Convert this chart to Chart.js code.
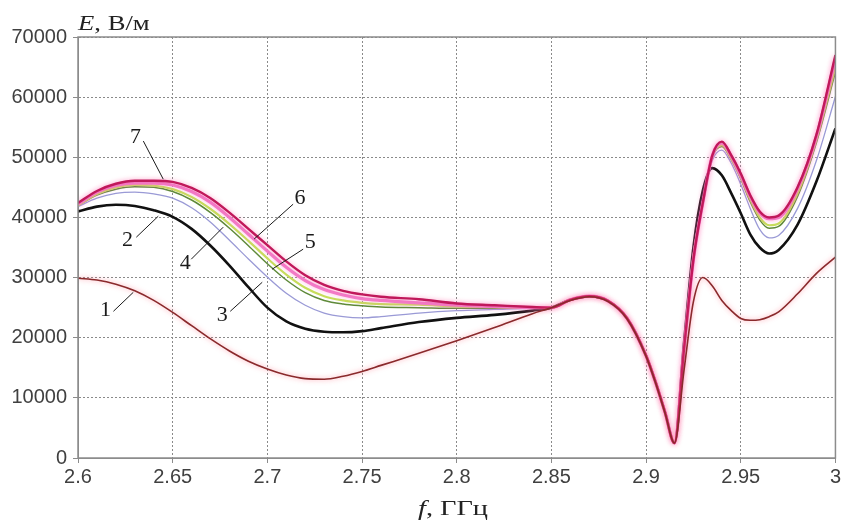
<!DOCTYPE html>
<html><head><meta charset="utf-8">
<script src="https://cdn.jsdelivr.net/npm/chart.js@4.4.1/dist/chart.umd.min.js"></script>
<style>
html,body{margin:0;padding:0;background:#fff;}
#wrap{position:relative;width:843px;height:520px;overflow:hidden;}
canvas{position:absolute;left:0;top:0;}
.ttl{position:absolute;font-family:'Liberation Serif','Times New Roman',serif;font-size:21px;color:#222;white-space:nowrap;line-height:1;transform-origin:0 0;}
</style></head><body>
<div id="wrap"><canvas id="c" width="843" height="520"></canvas>
<div class="ttl" style="left:78px;top:13px;transform:scaleX(1.27);"><i>E</i>, В/м</div>
<div class="ttl" style="left:418px;top:498px;transform:scaleX(1.35);"><i>f</i>, ГГц</div>
</div>
<script>
// Frequencies, GHz
const freq = [2.60,2.61,2.62,2.63,2.64,2.65,2.66,2.67,2.68,2.69,2.70,2.71,2.72,2.73,2.74,2.75,2.76,2.78,2.80,2.82,2.84,2.85,2.86,2.87,2.88,2.89,2.90,2.905,2.91,2.915,2.92,2.925,2.93,2.935,2.94,2.945,2.95,2.955,2.96,2.965,2.97,2.98,2.99,3.00];
// Field strength E, V/m, curves 1..7
const curve1 = [29900,29600,28900,27800,26200,24200,22000,19800,17800,16100,14800,13800,13200,13100,13600,14400,15400,17400,19500,21700,24000,25000,26200,26800,26000,23100,16900,12500,7500,2500,14500,26000,30000,28600,26200,24500,23200,22900,23000,23500,24300,27300,30700,33400];
const curve2 = [41000,41800,42100,41900,41200,40100,38100,35300,32000,28400,25000,22700,21500,21000,20900,21100,21600,22600,23300,23800,24500,25000,26300,26900,26100,23200,17000,12600,7600,2500,19000,35000,44500,48200,47000,44000,40700,37200,35000,34000,34600,38800,46000,54800];
const curve3 = [41800,43200,44000,44200,43900,43200,41600,39200,36200,33100,30100,27400,25400,24100,23500,23300,23500,24100,24500,24700,24900,25000,26300,26900,26100,23200,17000,12600,7600,2500,18500,34000,43000,49500,51200,49000,45500,41500,38000,36600,37000,41500,49500,60100];
const curve4 = [42000,43700,44700,45100,45000,44300,42900,40800,38200,35300,32300,29600,27500,26200,25600,25300,25100,25000,24900,24900,24900,25000,26300,26900,26100,23200,17000,12600,7600,2500,18200,33500,42500,50000,51800,49600,46400,42600,39600,38200,38500,43500,52500,64200];
const curve5 = [42000,43900,45000,45400,45300,44700,43400,41400,38900,36100,33200,30500,28300,26900,26200,25800,25600,25500,25200,25100,25000,25000,26300,26900,26100,23200,17000,12600,7600,2500,18200,33500,42500,50200,52000,49800,46700,43000,40000,38700,39000,44000,53000,65000];
const curve6 = [42200,44200,45300,45700,45700,45400,44300,42500,40000,37200,34400,31700,29500,28000,27100,26500,26200,25800,25400,25200,25000,25000,26300,26900,26100,23200,17000,12600,7600,2500,18000,33000,42500,50300,52400,50200,47000,43500,40800,39800,40000,44800,53500,66400];
const curve7 = [42400,44400,45600,46100,46100,45900,44900,43200,40800,38100,35400,32700,30400,28800,27800,27200,26800,26400,25700,25400,25100,25000,26300,26900,26100,23200,17000,12600,7600,2500,18000,33000,42500,50300,52600,50300,47300,43700,41000,40000,40300,45000,53800,67000];
// Axis ticks
const xTicks = [2.6,2.65,2.7,2.75,2.8,2.85,2.9,2.95,3];
const yTicks = [0,10000,20000,30000,40000,50000,60000,70000];
// Curve number callouts (data coordinates): text position, leader line start and end
const callouts = [
  {text:'1', tf:2.6145, tE:24560, f1:2.6187, E1:24390, f2:2.6292, E2:27550},
  {text:'2', tf:2.6261, tE:36210, f1:2.6308, E1:36710, f2:2.6424, E2:40210},
  {text:'3', tf:2.6762, tE:23730, f1:2.6804, E1:24390, f2:2.6973, E2:29220},
  {text:'4', tf:2.6566, tE:32380, f1:2.6598, E1:33050, f2:2.6767, E2:38380},
  {text:'5', tf:2.7226, tE:35880, f1:2.7189, E1:34720, f2:2.7025, E2:31385},
  {text:'6', tf:2.7173, tE:43200, f1:2.7136, E1:42200, f2:2.6930, E2:36400},
  {text:'7', tf:2.6303, tE:53366, f1:2.6345, E1:52700, f2:2.6450, E2:46370}
];

const toPts = arr => arr.map((v,i)=>({x:freq[i], y:v}));
const seriesDefs = [
  {data:curve1, color:'#8a2a2c', width:1.6, glow:'rgba(255,110,130,0.7)'},
  {data:curve2, color:'#111111', width:2.6},
  {data:curve3, color:'#9a9ad6', width:1.3},
  {data:curve4, color:'#5f8a3a', width:1.5},
  {data:curve5, color:'#c6df5a', width:2.2},
  {data:curve6, color:'#f27cc8', width:3.2, glow:'rgba(255,120,200,0.5)'},
  {data:curve7, color:'#c0185a', width:2.4, glow:'rgba(255,80,150,0.45)'}
];
// draw order: curve 1 on top, then 7, 6, ...
const order = [0,6,5,4,3,2,1];
const datasets = order.map(i => ({
  label: String(i+1),
  data: toPts(seriesDefs[i].data),
  borderColor: seriesDefs[i].color,
  borderWidth: seriesDefs[i].width,
  glow: seriesDefs[i].glow,
  pointRadius: 0,
  fill: false,
  cubicInterpolationMode: 'monotone'
}));

const glowPlugin = {
  id:'glow',
  beforeDatasetDraw(chart, args){
    const ds = chart.data.datasets[args.index];
    chart.ctx.save();
    if (ds.glow){ chart.ctx.shadowColor = ds.glow; chart.ctx.shadowBlur = 5; }
  },
  afterDatasetDraw(chart){ chart.ctx.restore(); }
};
const framePlugin = {
  id:'frame',
  afterDraw(chart){
    const {ctx, chartArea:a, scales} = chart;
    ctx.save();
    ctx.strokeStyle = '#8c8c8c'; ctx.lineWidth = 1.5; ctx.setLineDash([]);
    ctx.strokeRect(a.left, a.top, a.right-a.left, a.bottom-a.top);
    ctx.strokeStyle = '#1a1a1a'; ctx.lineWidth = 1;
    ctx.fillStyle = '#1a1a1a';
    ctx.font = '22px "Liberation Serif", "Times New Roman", serif';
    ctx.textAlign = 'center'; ctx.textBaseline = 'middle';
    callouts.forEach(c=>{
      const x1 = scales.x.getPixelForValue(c.f1), y1 = scales.y.getPixelForValue(c.E1);
      const x2 = scales.x.getPixelForValue(c.f2), y2 = scales.y.getPixelForValue(c.E2);
      ctx.beginPath(); ctx.moveTo(x1,y1); ctx.lineTo(x2,y2); ctx.stroke();
      ctx.fillText(c.text, scales.x.getPixelForValue(c.tf), scales.y.getPixelForValue(c.tE));
    });
    ctx.restore();
  }
};

new Chart(document.getElementById('c'), {
  type:'line',
  data:{datasets},
  plugins:[glowPlugin, framePlugin],
  options:{
    responsive:false, devicePixelRatio:1, animation:false,
    layout:{padding:{top:37, right:7, left:0, bottom:0}},
    plugins:{legend:{display:false}, tooltip:{enabled:false}},
    scales:{
      x:{type:'linear', min:2.6, max:3.0,
        afterBuildTicks: s => { s.ticks = xTicks.map(v=>({value:v})); },
        afterFit: s => { s.height = 62; },
        ticks:{font:{family:'"Liberation Sans", Arial, sans-serif', size:20}, color:'#404040', padding:2, maxRotation:0, autoSkip:false,
          callback: v => String(Number(v.toFixed(2)))},
        grid:{color:'#8a8a8a', lineWidth:1, tickLength:5, tickColor:'#8c8c8c'},
        border:{dash:[2,2], color:'#8c8c8c'}
      },
      y:{type:'linear', min:0, max:70000,
        afterBuildTicks: s => { s.ticks = yTicks.map(v=>({value:v})); },
        afterFit: s => { s.width = 78; },
        ticks:{font:{family:'"Liberation Sans", Arial, sans-serif', size:20}, color:'#404040', padding:6,
          callback: v => String(v)},
        grid:{color:'#8a8a8a', lineWidth:1, tickLength:5, tickColor:'#8c8c8c'},
        border:{dash:[2,2], color:'#8c8c8c'}
      }
    }
  }
});
</script>
</body></html>
